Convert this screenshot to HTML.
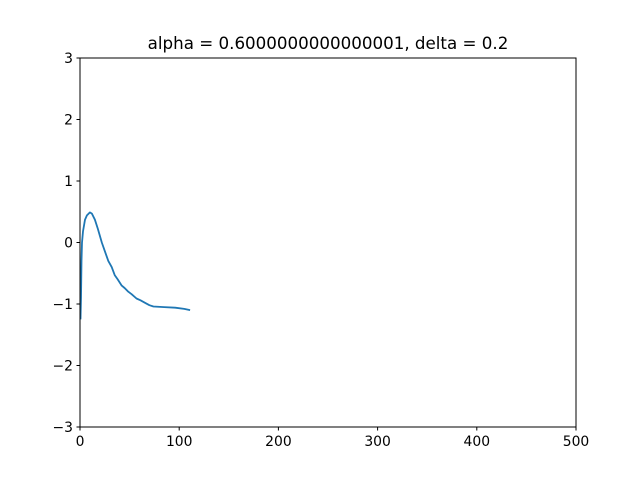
<!DOCTYPE html>
<html><head><meta charset="utf-8"><style>
body{margin:0;background:#fff}
svg{display:block;font-family:"DejaVu Sans","Liberation Sans",sans-serif}
</style></head><body>
<svg id="chart" width="640" height="480">
<rect x="0" y="0" width="640" height="480" fill="#fff"/>
<text x="328" y="49" text-anchor="middle" font-size="16.7">alpha = 0.6000000000000001, delta = 0.2</text>
<g id="ticks"></g>
<path id="line" fill="none" stroke="#1f77b4" stroke-width="1.8" stroke-linejoin="round"/>
<rect x="80" y="58" width="496" height="369" fill="none" stroke="#000" stroke-width="1"/>
</svg>
<script>
const xs=[0.5,1,1.5,2,3,5,7,10,12,15,18,22,25,28.5,32,35,38,42,45,48.7,52,57,61,65.5,70,74,85,96,105,111];
const ys=[-1.25,-0.9,-0.3,0,0.18,0.37,0.44,0.49,0.47,0.37,0.22,0,-0.14,-0.3,-0.4,-0.53,-0.6,-0.7,-0.74,-0.8,-0.84,-0.91,-0.94,-0.98,-1.02,-1.04,-1.05,-1.06,-1.08,-1.1];
const xTicks=[0,100,200,300,400,500];
const yTicks=[-3,-2,-1,0,1,2,3];
const X=v=>80+v*496/500, Y=v=>242.5-v*61.5;
const ns="http://www.w3.org/2000/svg",g=document.getElementById('ticks');
function mk(t,a){const e=document.createElementNS(ns,t);for(const k in a)e.setAttribute(k,a[k]);g.appendChild(e);return e;}
xTicks.forEach(v=>{
 const l=mk('line',{x1:X(v),x2:X(v),y1:427,y2:430.5,stroke:'#000'});
 
 
 const t=mk('text',{x:X(v),y:446,'text-anchor':'middle','font-size':'13.9'});t.textContent=v;
 
 
});
yTicks.forEach(v=>{
 const l=mk('line',{x1:76.5,x2:80,y1:Y(v),y2:Y(v),stroke:'#000'});
 
 
 const t=mk('text',{x:73,y:Y(v)+5,'text-anchor':'end','font-size':'13.9'});t.textContent=(v<0?'\u2212'+(-v):v);
 
 
});
document.getElementById('line').setAttribute('d',xs.map((x,i)=>(i?'L':'M')+X(x).toFixed(1)+' '+Y(ys[i]).toFixed(1)).join(' '));
</script>
</body></html>
